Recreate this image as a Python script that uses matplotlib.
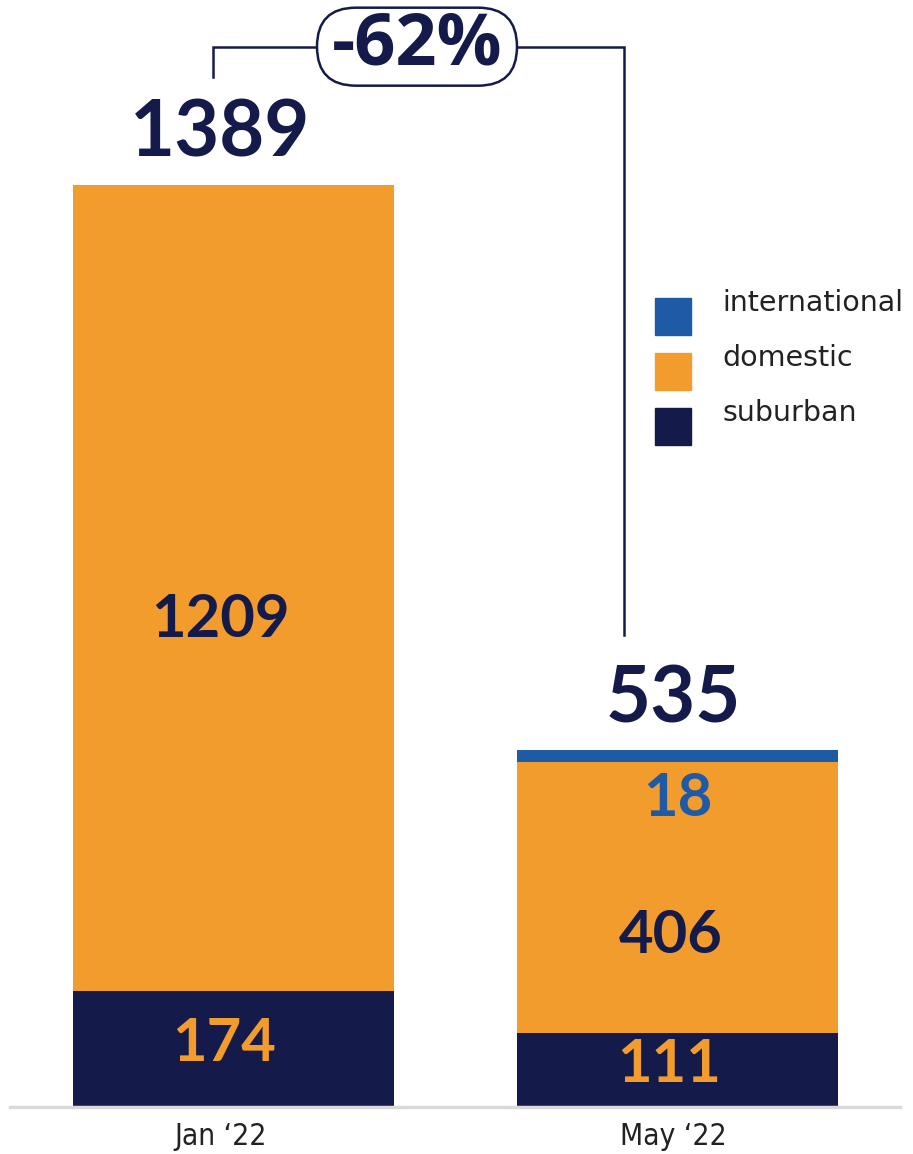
import matplotlib
matplotlib.use("Agg")
import matplotlib.pyplot as plt
from matplotlib.patches import FancyBboxPatch
from matplotlib.transforms import IdentityTransform
import numpy as np

categories = ["Jan \u201822", "May \u201822"]
suburban = [174, 111]
domestic = [1209, 406]
international = [0, 18]
total_labels = ["1389", "535"]
change_label = "-62%"
series_names = ["international", "domestic", "suburban"]

NAVY = "#141B4A"
ORANGE = "#F39C2E"
BLUE = "#1F5AA6"
GRID = "#D9D9D9"

W, H = 913, 1154
fig = plt.figure(figsize=(W / 100, H / 100), dpi=100)
ax_bottom_px = 1107
ax = fig.add_axes([10 / W, (H - ax_bottom_px) / H, 890 / W, ax_bottom_px / H])
x = np.arange(len(categories))
width = 0.723
ax.set_xlim(-0.503, 1.501)
ax.set_ylim(0, 1660)

sub = np.array(suburban)
dom = np.array(domestic)
intl = np.array(international)
ax.bar(x, sub, width, color=NAVY, zorder=2)
ax.bar(x, dom, width, bottom=sub, color=ORANGE, zorder=2)
ax.bar(x, intl, width, bottom=sub + dom, color=BLUE, zorder=2)

for s in ["top", "right", "left"]:
    ax.spines[s].set_visible(False)
ax.spines["bottom"].set_color(GRID)
ax.spines["bottom"].set_linewidth(2.5)
ax.set_yticks([])
ax.set_xticks([])
tick_off = [-0.03, -0.01]
for i, c in enumerate(categories):
    ax.text(x[i] + tick_off[i], -22, c, ha="center", va="top", fontsize=21.5, color="#222222",
            family="DejaVu Sans", fontstretch="condensed")

numfont = ["Lato", "DejaVu Sans"]
# inner labels
ax.text(x[0] - 0.03, sub[0] + dom[0] * 0.46, f"{dom[0]}", ha="center", va="center", fontsize=43,
        fontweight="bold", color=NAVY, family=numfont)
ax.text(x[0] - 0.02, sub[0] * 0.54, f"{sub[0]}", ha="center", va="center", fontsize=43,
        fontweight="bold", color=ORANGE, family=numfont)
ax.text(x[1] - 0.02, sub[1] * 0.57, f"{sub[1]}", ha="center", va="center", fontsize=43,
        fontweight="bold", color=ORANGE, family=numfont)
ax.text(x[1] - 0.015, sub[1] + dom[1] * 0.36, f"{dom[1]}", ha="center", va="center", fontsize=43,
        fontweight="bold", color=NAVY, family=numfont)
ax.text(x[1], sub[1] + dom[1] * 0.865, f"{intl[1]}", ha="center", va="center", fontsize=43,
        fontweight="bold", color=BLUE, family=numfont)

# totals
tops = sub + dom + intl
offs = [-0.03, -0.01]
for i in range(2):
    ax.text(x[i] + offs[i], tops[i] + 42, total_labels[i], ha="center", va="baseline",
            fontsize=56, fontweight="bold", color=NAVY, family=numfont)

# bracket
lx, rx = -0.046, 0.879
ytop = 1590
ax.plot([lx, lx, rx, rx], [1545, ytop, ytop, 708], color=NAVY, lw=1.8, zorder=3,
        solid_joinstyle="miter")
cx = (316 - 10) / 890 * (1.501 + 0.503) - 0.503 + 202 / 2 / 890 * (1.501 + 0.503)
fig.canvas.draw()
px, py = ax.transData.transform((cx, ytop))
pill = FancyBboxPatch((px - 100, py - 39), 200, 78,
                      boxstyle="round,pad=0,rounding_size=39", transform=IdentityTransform(),
                      fc="white", ec=NAVY, lw=1.8, zorder=4)
fig.patches.append(pill)
pill.set_figure(fig)
fig.text(px / W, (py + 1) / H, change_label, ha="center", va="center", fontsize=52,
         fontweight="bold", color=NAVY, family=["Open Sans", "DejaVu Sans"],
         fontstretch="condensed", zorder=5)

# legend
leg_colors = [BLUE, ORANGE, NAVY]
for k, (nm, c) in enumerate(zip(series_names, leg_colors)):
    ytop_px = 298 + k * 55
    fig.patches.append(plt.Rectangle((655 / W, 1 - (ytop_px + 37) / H), 36 / W, 37 / H,
                                     transform=fig.transFigure, color=c))
    fig.text(722 / W, 1 - (ytop_px + 5) / H, nm, ha="left", va="center", fontsize=20.5,
             color="#222222", family="DejaVu Sans")

fig.savefig("out.png", dpi=100)
